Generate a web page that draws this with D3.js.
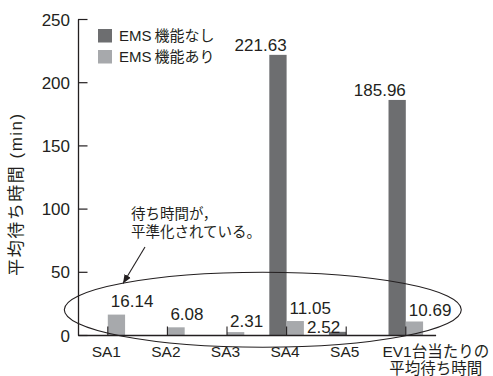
<!DOCTYPE html>
<html><head><meta charset="utf-8">
<script src="https://cdn.jsdelivr.net/npm/d3@7"></script>
<style>
html,body{margin:0;padding:0;background:#fff;}
svg{display:block;font-family:"Liberation Sans",Arial,"Noto Sans CJK JP",sans-serif;}
</style></head><body>
<script>
const categories = ["SA1","SA2","SA3","SA4","SA5","EV1台当たりの\n平均待ち時間"];
const seriesNames = ["EMS機能なし","EMS機能あり"];
const withoutEMS = [0, 0, 0, 221.63, 2.52, 185.96];
const withEMS = [16.14, 6.08, 2.31, 11.05, 0, 10.69];
const yTicks = [0, 50, 100, 150, 200, 250];
const yTitle = "平均待ち時間 (min)";
const noteLines = ["待ち時間が，", "平準化されている。"];

const W = 493, H = 376;
const ink = "#231f20";
const colors = ["#6d6e70", "#a7a9ac"];
const cjk = '"Liberation Sans",Arial,"Noto Sans CJK JP",sans-serif';

const svg = d3.select("body").append("svg").attr("width", W).attr("height", H);

const x = d3.scaleBand().domain(categories).range([78, 435.6]).padding(0);
const bw = x.bandwidth();
const barW = bw * 0.29;
const x1 = d3.scaleBand().domain(seriesNames).range([bw/2 - barW, bw/2 + barW]).padding(0);
const y = d3.scaleLinear().domain([0, 250]).range([335, 19]);

const rows = categories.map((c, i) => ({c, vals: [withoutEMS[i], withEMS[i]]}));

// bars
const g = svg.append("g");
rows.forEach(r => {
  r.vals.forEach((v, k) => {
    if (v <= 0) return;
    g.append("rect")
      .attr("x", x(r.c) + x1(seriesNames[k]))
      .attr("y", y(v))
      .attr("width", x1.bandwidth())
      .attr("height", y(0) - y(v))
      .attr("fill", colors[k]);
  });
});

// value labels
rows.forEach((r, i) => {
  const cx = x(r.c) + bw/2;
  const crowded = i + 1 < rows.length && (y(0) - y(rows[i + 1].vals[0])) < 20;
  r.vals.forEach((v, k) => {
    if (v <= 0) return;
    const t = svg.append("text")
      .attr("font-size", 17).attr("fill", ink)
      .text(v.toFixed(2));
    if (k === 0) {
      const small = (y(0) - y(v)) < 20;
      t.attr("text-anchor", "end")
       .attr("x", small ? cx - 6 : cx)
       .attr("y", small ? y(0) - 1.8 : y(v) - 4);
    } else {
      t.attr("text-anchor", "start").attr("x", cx + 3).attr("y", y(v) - (crowded ? 7.5 : 5));
    }
  });
});

// y axis
const yAxis = svg.append("g").attr("transform", "translate(78,0)")
  .call(d3.axisLeft(y).tickValues(yTicks).tickSizeInner(-9.5).tickSizeOuter(0).tickPadding(8));
yAxis.select(".domain").attr("stroke", ink).attr("stroke-width", 1.3);
yAxis.selectAll(".tick line").attr("stroke", ink).attr("stroke-width", 1.2);
yAxis.selectAll(".tick text").attr("font-size", 17).attr("fill", ink)
  .attr("font-family", cjk).attr("dy", "0.36em");

// x axis
const xAxis = svg.append("g").attr("transform", `translate(0,${y(0)})`)
  .call(d3.axisBottom(x).tickSizeInner(-8.5).tickSizeOuter(0).tickPadding(0));
xAxis.select(".domain").attr("stroke", ink).attr("stroke-width", 1.3);
xAxis.selectAll(".tick line").attr("stroke", ink).attr("stroke-width", 1.1);
xAxis.selectAll(".tick text").each(function(d) {
  const t = d3.select(this);
  const lines = d.split("\n");
  t.text(null).attr("font-size", 15.5).attr("fill", ink).attr("font-family", cjk)
   .attr("y", 22).attr("dy", null);
  const dx = lines.length > 1 ? 30 : -1.5;
  t.attr("x", dx);
  lines.forEach((ln, i) => {
    t.append("tspan").attr("x", dx).attr("dy", i === 0 ? 0 : 17).text(ln);
  });
});

// y title
svg.append("text")
  .attr("transform", "translate(22,194) rotate(-90)")
  .attr("text-anchor", "middle").attr("font-size", 17).attr("fill", ink)
  .attr("letter-spacing", 1.5)
  .attr("font-family", cjk)
  .text(yTitle);

// legend
const leg = svg.append("g").attr("transform", "translate(98,29)");
seriesNames.forEach((s, k) => {
  leg.append("rect").attr("x", 0).attr("y", k*21).attr("width", 14).attr("height", 13.5).attr("fill", colors[k]);
  leg.append("text").attr("x", 21).attr("y", k*21 + 12).attr("font-size", 15).attr("fill", ink)
    .attr("font-family", cjk).text(s.replace("EMS", "EMS\u2009"));
});

// annotation ellipse
const ecx = x("SA4") + 6;
svg.append("ellipse")
  .attr("cx", ecx).attr("cy", y(20)).attr("rx", 198.5).attr("ry", 37.5)
  .attr("fill", "none").attr("stroke", ink).attr("stroke-width", 1.1);

// annotation text
const note = svg.append("text").attr("font-size", 14.5).attr("fill", ink).attr("font-family", cjk);
noteLines.forEach((ln, i) => {
  note.append("tspan").attr("x", 131).attr("y", 219 + i*17.5).text(ln);
});

// arrow
svg.append("defs").append("marker")
  .attr("id", "ah").attr("viewBox", "0 0 10 10").attr("refX", 10).attr("refY", 5)
  .attr("markerWidth", 9).attr("markerHeight", 9).attr("markerUnits", "userSpaceOnUse")
  .attr("orient", "auto")
  .append("path").attr("d", "M0,1 L10,5 L0,9 Z").attr("fill", ink);
svg.append("line")
  .attr("x1", 145).attr("y1", 247).attr("x2", 123).attr("y2", 283.5)
  .attr("stroke", ink).attr("stroke-width", 1.1).attr("marker-end", "url(#ah)");
</script>
</body></html>
